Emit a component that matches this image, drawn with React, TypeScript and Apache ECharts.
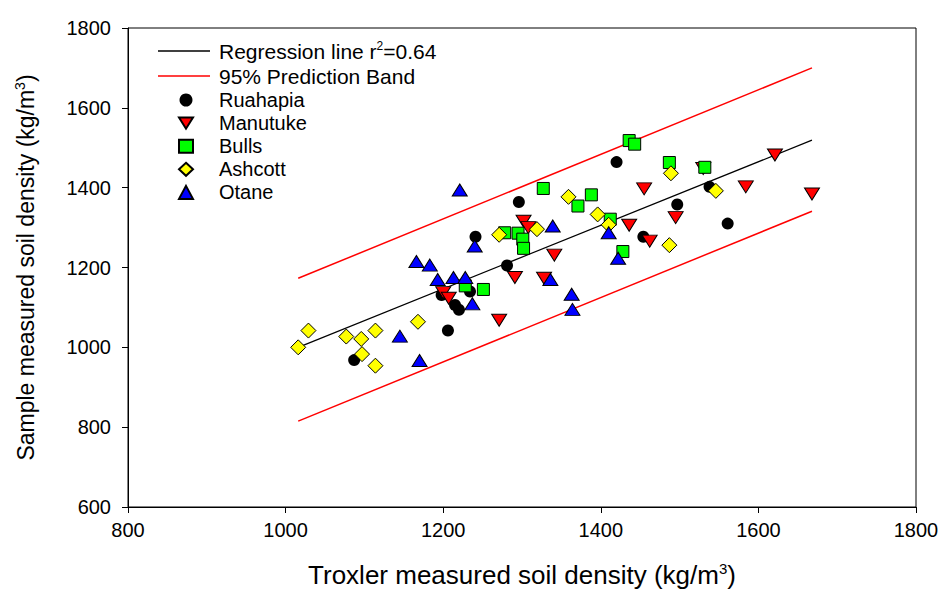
import React, { useEffect, useRef } from "react";
import * as echarts from "echarts";

const xTicks = [800, 1000, 1200, 1400, 1600, 1800];
const yTicks = [600, 800, 1000, 1200, 1400, 1600, 1800];

const regressionLine = [[1016, 1000], [1668, 1519]];
const upperBand = [[1016, 1173], [1668, 1700]];
const lowerBand = [[1016, 815], [1668, 1341]];

const ruahapia = [
  [1087, 968], [1198, 1131], [1206, 1042], [1215, 1106], [1220, 1094],
  [1234, 1140], [1241, 1277], [1281, 1205], [1296, 1364], [1420, 1464],
  [1454, 1277], [1497, 1358], [1538, 1402], [1561, 1310],
];
const manutuke = [
  [1200, 1137], [1207, 1123], [1271, 1068], [1291, 1175], [1302, 1316],
  [1308, 1300], [1328, 1173], [1341, 1231], [1436, 1306], [1455, 1397],
  [1462, 1266], [1495, 1325], [1530, 1448], [1584, 1402], [1621, 1482],
  [1668, 1384],
];
const bulls = [
  [1228, 1154], [1251, 1145], [1278, 1287], [1295, 1286], [1301, 1271],
  [1302, 1248], [1327, 1398], [1371, 1354], [1388, 1382], [1412, 1321],
  [1428, 1240], [1436, 1518], [1443, 1509], [1487, 1463], [1532, 1451],
];
const ashcott = [
  [1016, 1000], [1029, 1042], [1077, 1027], [1096, 1021], [1097, 983],
  [1114, 1042], [1114, 954], [1168, 1064], [1271, 1282], [1319, 1296],
  [1359, 1377], [1396, 1333], [1410, 1307], [1489, 1436], [1546, 1392],
  [1487, 1256],
];
const otane = [
  [1145, 1028], [1166, 1215], [1170, 967], [1183, 1206], [1193, 1170],
  [1213, 1175], [1221, 1394], [1228, 1175], [1237, 1109], [1240, 1254],
  [1336, 1170], [1339, 1304], [1363, 1133], [1364, 1095], [1410, 1287],
  [1422, 1223],
];

const FONT = "'Liberation Sans', Arial, sans-serif";
const LINE_ICON = "path://M0,0L52,0L52,1.5L0,1.5Z";
const DOWN_TRIANGLE = "path://M0,0L15,0L7.5,12Z";

export default function App() {
  const ref = useRef<HTMLDivElement>(null);
  useEffect(() => {
    if (!ref.current) return;
    const chart = echarts.init(ref.current, undefined, { renderer: "svg" });
    const border = { borderColor: "#000", borderWidth: 1, opacity: 1 };
    chart.setOption({
      animation: false,
      backgroundColor: "#fff",
      textStyle: { fontFamily: FONT, color: "#000" },
      grid: {
        left: 128, right: 26, top: 28, bottom: 82,
        outerBoundsMode: "none", containLabel: false,
        show: true, borderColor: "#000", borderWidth: 1, backgroundColor: "transparent",
      },
      legend: [
        {
          data: [
            { name: "Regression line r2=0.64", icon: LINE_ICON },
            { name: "95% Prediction Band", icon: LINE_ICON },
          ],
          orient: "vertical", left: 153, top: 35,
          itemWidth: 52, itemHeight: 14, itemGap: 4,
          formatter: (n: string) => n.startsWith("Regression") ? "Regression line r{sup|2}=0.64" : n,
          textStyle: {
            fontSize: 21, fontFamily: FONT, color: "#000", padding: [0, 0, 0, 4],
            rich: { sup: { fontSize: 12, fontFamily: FONT, color: "#000", padding: [0, 0, 10, 0] } },
          },
        },
        {
          data: [
            "Ruahapia",
            { name: "Manutuke", icon: DOWN_TRIANGLE },
            "Bulls", "Ashcott", "Otane",
          ],
          orient: "vertical", left: 173, top: 85,
          itemWidth: 14, itemHeight: 13, itemGap: 3.1,
          textStyle: { fontSize: 20, fontFamily: FONT, color: "#000", padding: [0, 0, 0, 21] },
        },
      ],
      xAxis: {
        type: "value", min: xTicks[0], max: xTicks[xTicks.length - 1], interval: 200,
        name: "Troxler measured soil density (kg/m{sup|3})",
        nameLocation: "middle", nameGap: 54,
        nameTextStyle: {
          fontSize: 26, fontFamily: FONT, color: "#000",
          rich: { sup: { fontSize: 15, fontFamily: FONT, color: "#000", padding: [0, 0, 12, 0] } },
        },
        axisLine: { lineStyle: { color: "#000", width: 1 } },
        axisTick: { show: true, inside: false, length: 6, lineStyle: { color: "#000" } },
        axisLabel: { fontSize: 20, color: "#000", margin: 13, fontFamily: FONT, formatter: (v: number) => String(v) },
        splitLine: { show: false },
      },
      yAxis: {
        type: "value", min: yTicks[0], max: yTicks[yTicks.length - 1], interval: 200,
        name: "Sample measured soil density (kg/m{sup|3})",
        nameLocation: "middle", nameGap: 90, nameRotate: 90,
        nameTextStyle: {
          fontSize: 23, fontFamily: FONT, color: "#000",
          rich: { sup: { fontSize: 14, fontFamily: FONT, color: "#000", padding: [0, 0, 11, 0] } },
        },
        axisLine: { show: true, lineStyle: { color: "#000", width: 1 } },
        axisTick: { show: true, inside: false, length: 6, lineStyle: { color: "#000" } },
        axisLabel: { fontSize: 20, color: "#000", margin: 17, fontFamily: FONT, formatter: (v: number) => String(v) },
        splitLine: { show: false },
      },
      series: [
        {
          name: "Regression line r2=0.64", type: "line", data: regressionLine,
          symbol: "none", lineStyle: { color: "#000", width: 1.2 }, itemStyle: { color: "#000" }, z: 1,
        },
        {
          name: "95% Prediction Band", type: "line", data: upperBand,
          symbol: "none", lineStyle: { color: "#ff0000", width: 1.5 }, itemStyle: { color: "#ff0000" }, z: 1,
        },
        {
          name: "95% Prediction Band", type: "line", data: lowerBand,
          symbol: "none", lineStyle: { color: "#ff0000", width: 1.5 }, itemStyle: { color: "#ff0000" }, z: 1,
        },
        {
          name: "Ruahapia", type: "scatter", data: ruahapia, symbol: "circle", symbolSize: 12,
          itemStyle: { color: "#000", borderColor: "#000", borderWidth: 0, opacity: 1 }, z: 2,
        },
        {
          name: "Manutuke", type: "scatter", data: manutuke, symbol: "triangle", symbolRotate: 180,
          symbolSize: [15, 12], itemStyle: { color: "#ff0000", ...border }, z: 3,
        },
        {
          name: "Bulls", type: "scatter", data: bulls, symbol: "rect", symbolSize: 12,
          itemStyle: { color: "#00ff00", ...border }, z: 4,
        },
        {
          name: "Ashcott", type: "scatter", data: ashcott, symbol: "diamond", symbolSize: 15,
          itemStyle: { color: "#ffff00", ...border }, z: 5,
        },
        {
          name: "Otane", type: "scatter", data: otane, symbol: "triangle",
          symbolSize: [15, 12], itemStyle: { color: "#0000ff", ...border }, z: 6,
        },
      ],
    });
    return () => chart.dispose();
  }, []);
  return <div ref={ref} style={{ position: "absolute", left: 0, top: 0, width: 942, height: 589 }} />;
}
